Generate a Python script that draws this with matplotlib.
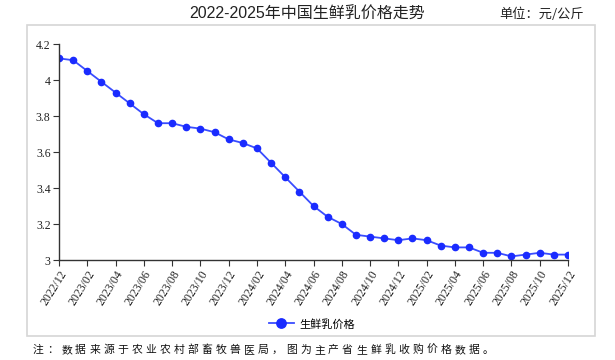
import matplotlib
matplotlib.use("Agg")
import matplotlib.pyplot as plt
from matplotlib.patches import Rectangle

plt.rcParams['font.family'] = ['Liberation Serif', 'Noto Sans CJK SC', 'DejaVu Sans']

months = []
for y in (2022, 2023, 2024, 2025):
    for m in range(1, 13):
        if (y == 2022 and m < 12):
            continue
        months.append(f"{y}/{m:02d}")
prices = [4.12, 4.11, 4.05, 3.99, 3.93, 3.87, 3.81, 3.76, 3.76, 3.74, 3.73, 3.71,
          3.67, 3.65, 3.62, 3.54, 3.46, 3.38, 3.30, 3.24, 3.20, 3.14, 3.13, 3.12,
          3.11, 3.12, 3.11, 3.08, 3.07, 3.07, 3.04, 3.04, 3.02, 3.03, 3.04, 3.03, 3.03]
yticks = [3, 3.2, 3.4, 3.6, 3.8, 4, 4.2]
ytick_labels = ["3", "3.2", "3.4", "3.6", "3.8", "4", "4.2"]
title = "2022-2025年中国生鲜乳价格走势"
unit = "单位：元/公斤"
note = "注：数据来源于农业农村部畜牧兽医局，图为主产省生鲜乳收购价格数据。"

W, H = 615, 360
fig = plt.figure(figsize=(W/100, H/100), dpi=100)
fig.patches.append(Rectangle((27/W, 1-336/H), (595-27)/W, (336-25)/H,
                             transform=fig.transFigure, fill=False,
                             edgecolor='#d6d6d6', linewidth=1.2))

ax = fig.add_axes([59/W, 1-260/H, (568-59)/W, (260-44)/H])
x = list(range(len(months)))
ax.plot(x, prices, color='#3a4dff', linewidth=1.3, marker='o', markersize=4.5,
        markerfacecolor='#1a2bff', markeredgecolor='#1a2bff', label='生鲜乳价格')
ax.set_xlim(0, len(months)-1)
ax.set_ylim(3, 4.2)
ax.set_yticks(yticks)
ax.set_yticklabels(ytick_labels, fontsize=8.5)
ax.set_xticks(x[::2])
ax.set_xticklabels(months[::2], rotation=58, ha='right', rotation_mode='anchor', fontsize=8.5)
for s in ('top', 'right'):
    ax.spines[s].set_visible(False)
for s in ('left', 'bottom'):
    ax.spines[s].set_color('#333333')
    ax.spines[s].set_linewidth(1.0)
ax.tick_params(length=4, width=0.8, colors='#333333', pad=2)
ax.tick_params(labelcolor='#222222')

leg = fig.legend(loc='center', bbox_to_anchor=(312/W, 1-324/H), frameon=False,
                 prop={'family': ['Noto Sans CJK SC'], 'size': 8}, handlelength=2.2,
                 markerscale=1.5, handletextpad=0.5)

fig.text(307/W, 1-14/H, title, ha='center', va='center',
         fontsize=11.5, family=['Liberation Sans', 'Noto Sans CJK SC'], color='#222222')
fig.text(584/W, 1-14/H, unit, ha='right', va='center',
         fontsize=9.5, family=['Noto Sans CJK SC'], color='#222222')

# note with wide character spacing, as in the reference
x0, pitch = 33, 14.05
for i, ch in enumerate(note):
    fig.text((x0 + i * pitch) / W, 1-350/H, ch, ha='left', va='center',
             fontsize=7.8, family=['Noto Sans CJK SC'], color='#111111')

fig.savefig("out.png", dpi=100)
